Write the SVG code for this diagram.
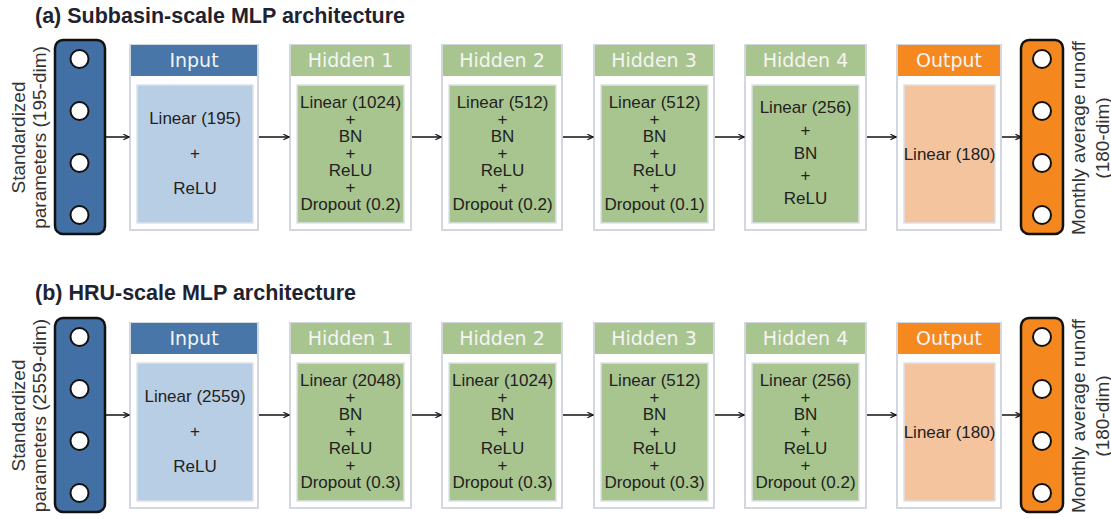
<svg xmlns="http://www.w3.org/2000/svg" width="1111" height="519" viewBox="0 0 1111 519">
<defs>
<style>
.title{font-family:"Liberation Sans",Arial,sans-serif;font-weight:bold;font-size:21.5px;fill:#1f2330}
.side{font-family:"Liberation Sans",Arial,sans-serif;font-size:19px;fill:#333;text-anchor:middle}
.frame{fill:#fff;stroke:#d3d7df;stroke-width:2}
.hdr{font-family:"DejaVu Sans",sans-serif;font-size:19px;fill:#f4f4f4;text-anchor:middle}
.body{font-family:"Liberation Sans",Arial,sans-serif;font-size:17px;fill:#222;text-anchor:middle}
.inner{stroke:#dde1e8;stroke-width:1.5}
.bluehdr{fill:#4876a9}
.blueinner{fill:#b8cee5}
.greenhdr{fill:#a8c58f}
.greeninner{fill:#a8c58f}
.orangehdr{fill:#f5891f}
.orangeinner{fill:#f4c49e}
.colin{fill:#4270a5;stroke:#111;stroke-width:2.5}
.colout{fill:#f4871d;stroke:#111;stroke-width:2.5}
.node{fill:#fff;stroke:#111;stroke-width:2}
.conn{stroke:#111;stroke-width:1.5;fill:none;marker-end:url(#arr)}
</style>
<marker id="arr" viewBox="0 0 10 10" refX="9" refY="5" markerWidth="7" markerHeight="7" markerUnits="userSpaceOnUse" orient="auto">
<path d="M1,1 L9,5 L1,9" fill="none" stroke="#111" stroke-width="1.6"/>
</marker>
</defs>
<rect width="1111" height="519" fill="#fff"/>

<text class="title" x="35" y="22.5">(a) Subbasin-scale MLP architecture</text>
<text class="title" x="35" y="299.5">(b) HRU-scale MLP architecture</text>

<!-- Panel A -->
<g id="a-in-col">
<text class="side" transform="translate(25,137.5) rotate(-90)">Standardized</text>
<text class="side" transform="translate(46,137.5) rotate(-90)">parameters (195-dim)</text>
<rect class="colin" x="55" y="40" width="50" height="194" rx="8"/>
<circle class="node" cx="79.5" cy="59" r="9"/>
<circle class="node" cx="79.5" cy="111" r="9"/>
<circle class="node" cx="79.5" cy="163" r="9"/>
<circle class="node" cx="79.5" cy="215" r="9"/>
</g>
<g id="a-input">
<rect class="frame" x="130" y="45" width="128" height="185"/>
<rect class="bluehdr" x="131" y="45" width="126" height="31"/>
<text class="hdr" x="194" y="67">Input</text>
<rect class="blueinner inner" x="137" y="85" width="116" height="138"/>
<text class="body" x="195" y="124">Linear (195)</text>
<text class="body" x="195" y="159">+</text>
<text class="body" x="195" y="194">ReLU</text>
</g>
<g id="a-h1">
<rect class="frame" x="290" y="45" width="121" height="185"/>
<rect class="greenhdr" x="291" y="45" width="119" height="31"/>
<text class="hdr" x="350.5" y="67">Hidden 1</text>
<rect class="greeninner inner" x="297" y="85" width="107" height="138"/>
<text class="body" x="350.5" y="108">Linear (1024)</text>
<text class="body" x="350.5" y="125">+</text>
<text class="body" x="350.5" y="142">BN</text>
<text class="body" x="350.5" y="159">+</text>
<text class="body" x="350.5" y="176">ReLU</text>
<text class="body" x="350.5" y="193">+</text>
<text class="body" x="350.5" y="210">Dropout (0.2)</text>
</g>
<g id="a-h2">
<rect class="frame" x="442" y="45" width="120" height="185"/>
<rect class="greenhdr" x="443" y="45" width="118" height="31"/>
<text class="hdr" x="502" y="67">Hidden 2</text>
<rect class="greeninner inner" x="449" y="85" width="107" height="138"/>
<text class="body" x="502.5" y="108">Linear (512)</text>
<text class="body" x="502.5" y="125">+</text>
<text class="body" x="502.5" y="142">BN</text>
<text class="body" x="502.5" y="159">+</text>
<text class="body" x="502.5" y="176">ReLU</text>
<text class="body" x="502.5" y="193">+</text>
<text class="body" x="502.5" y="210">Dropout (0.2)</text>
</g>
<g id="a-h3">
<rect class="frame" x="594" y="45" width="120" height="185"/>
<rect class="greenhdr" x="595" y="45" width="118" height="31"/>
<text class="hdr" x="654" y="67">Hidden 3</text>
<rect class="greeninner inner" x="601" y="85" width="107" height="138"/>
<text class="body" x="654.5" y="108">Linear (512)</text>
<text class="body" x="654.5" y="125">+</text>
<text class="body" x="654.5" y="142">BN</text>
<text class="body" x="654.5" y="159">+</text>
<text class="body" x="654.5" y="176">ReLU</text>
<text class="body" x="654.5" y="193">+</text>
<text class="body" x="654.5" y="210">Dropout (0.1)</text>
</g>
<g id="a-h4">
<rect class="frame" x="745" y="45" width="121" height="185"/>
<rect class="greenhdr" x="746" y="45" width="119" height="31"/>
<text class="hdr" x="805.5" y="67">Hidden 4</text>
<rect class="greeninner inner" x="752" y="85" width="107" height="138"/>
<text class="body" x="805.5" y="113">Linear (256)</text>
<text class="body" x="805.5" y="135.75">+</text>
<text class="body" x="805.5" y="158.5">BN</text>
<text class="body" x="805.5" y="181.25">+</text>
<text class="body" x="805.5" y="204">ReLU</text>
</g>
<g id="a-output">
<rect class="frame" x="897" y="45" width="104" height="185"/>
<rect class="orangehdr" x="898" y="45" width="102" height="31"/>
<text class="hdr" x="949" y="67">Output</text>
<rect class="orangeinner inner" x="904" y="85" width="91" height="138"/>
<text class="body" x="949.5" y="160">Linear (180)</text>
</g>
<g id="a-out-col">
<rect class="colout" x="1021" y="40" width="42" height="194" rx="8"/>
<circle class="node" cx="1042" cy="59" r="9"/>
<circle class="node" cx="1042" cy="111" r="9"/>
<circle class="node" cx="1042" cy="163" r="9"/>
<circle class="node" cx="1042" cy="215" r="9"/>
<text class="side" transform="translate(1085,138) rotate(-90)">Monthly average runoff</text>
<text class="side" transform="translate(1109,138) rotate(-90)">(180-dim)</text>
</g>

<!-- Panel B -->
<g id="b-in-col" transform="translate(0,278)">
<text class="side" transform="translate(25,137.5) rotate(-90)">Standardized</text>
<text class="side" transform="translate(46,137.5) rotate(-90)">parameters (2559-dim)</text>
<rect class="colin" x="55" y="40" width="50" height="194" rx="8"/>
<circle class="node" cx="79.5" cy="59" r="9"/>
<circle class="node" cx="79.5" cy="111" r="9"/>
<circle class="node" cx="79.5" cy="163" r="9"/>
<circle class="node" cx="79.5" cy="215" r="9"/>
</g>
<g id="b-input" transform="translate(0,278)">
<rect class="frame" x="130" y="45" width="128" height="185"/>
<rect class="bluehdr" x="131" y="45" width="126" height="31"/>
<text class="hdr" x="194" y="67">Input</text>
<rect class="blueinner inner" x="137" y="85" width="116" height="138"/>
<text class="body" x="195" y="124">Linear (2559)</text>
<text class="body" x="195" y="159">+</text>
<text class="body" x="195" y="194">ReLU</text>
</g>
<g id="b-h1" transform="translate(0,278)">
<rect class="frame" x="290" y="45" width="121" height="185"/>
<rect class="greenhdr" x="291" y="45" width="119" height="31"/>
<text class="hdr" x="350.5" y="67">Hidden 1</text>
<rect class="greeninner inner" x="297" y="85" width="107" height="138"/>
<text class="body" x="350.5" y="108">Linear (2048)</text>
<text class="body" x="350.5" y="125">+</text>
<text class="body" x="350.5" y="142">BN</text>
<text class="body" x="350.5" y="159">+</text>
<text class="body" x="350.5" y="176">ReLU</text>
<text class="body" x="350.5" y="193">+</text>
<text class="body" x="350.5" y="210">Dropout (0.3)</text>
</g>
<g id="b-h2" transform="translate(0,278)">
<rect class="frame" x="442" y="45" width="120" height="185"/>
<rect class="greenhdr" x="443" y="45" width="118" height="31"/>
<text class="hdr" x="502" y="67">Hidden 2</text>
<rect class="greeninner inner" x="449" y="85" width="107" height="138"/>
<text class="body" x="502.5" y="108">Linear (1024)</text>
<text class="body" x="502.5" y="125">+</text>
<text class="body" x="502.5" y="142">BN</text>
<text class="body" x="502.5" y="159">+</text>
<text class="body" x="502.5" y="176">ReLU</text>
<text class="body" x="502.5" y="193">+</text>
<text class="body" x="502.5" y="210">Dropout (0.3)</text>
</g>
<g id="b-h3" transform="translate(0,278)">
<rect class="frame" x="594" y="45" width="120" height="185"/>
<rect class="greenhdr" x="595" y="45" width="118" height="31"/>
<text class="hdr" x="654" y="67">Hidden 3</text>
<rect class="greeninner inner" x="601" y="85" width="107" height="138"/>
<text class="body" x="654.5" y="108">Linear (512)</text>
<text class="body" x="654.5" y="125">+</text>
<text class="body" x="654.5" y="142">BN</text>
<text class="body" x="654.5" y="159">+</text>
<text class="body" x="654.5" y="176">ReLU</text>
<text class="body" x="654.5" y="193">+</text>
<text class="body" x="654.5" y="210">Dropout (0.3)</text>
</g>
<g id="b-h4" transform="translate(0,278)">
<rect class="frame" x="745" y="45" width="121" height="185"/>
<rect class="greenhdr" x="746" y="45" width="119" height="31"/>
<text class="hdr" x="805.5" y="67">Hidden 4</text>
<rect class="greeninner inner" x="752" y="85" width="107" height="138"/>
<text class="body" x="805.5" y="108">Linear (256)</text>
<text class="body" x="805.5" y="125">+</text>
<text class="body" x="805.5" y="142">BN</text>
<text class="body" x="805.5" y="159">+</text>
<text class="body" x="805.5" y="176">ReLU</text>
<text class="body" x="805.5" y="193">+</text>
<text class="body" x="805.5" y="210">Dropout (0.2)</text>
</g>
<g id="b-output" transform="translate(0,278)">
<rect class="frame" x="897" y="45" width="104" height="185"/>
<rect class="orangehdr" x="898" y="45" width="102" height="31"/>
<text class="hdr" x="949" y="67">Output</text>
<rect class="orangeinner inner" x="904" y="85" width="91" height="138"/>
<text class="body" x="949.5" y="160">Linear (180)</text>
</g>
<g id="b-out-col" transform="translate(0,278)">
<rect class="colout" x="1021" y="40" width="42" height="194" rx="8"/>
<circle class="node" cx="1042" cy="59" r="9"/>
<circle class="node" cx="1042" cy="111" r="9"/>
<circle class="node" cx="1042" cy="163" r="9"/>
<circle class="node" cx="1042" cy="215" r="9"/>
<text class="side" transform="translate(1085,138) rotate(-90)">Monthly average runoff</text>
<text class="side" transform="translate(1109,138) rotate(-90)">(180-dim)</text>
</g>

<g id="connectors">
<line class="conn" x1="105" y1="137" x2="129" y2="137"/>
<line class="conn" x1="259" y1="137" x2="289" y2="137"/>
<line class="conn" x1="412" y1="137" x2="441" y2="137"/>
<line class="conn" x1="563" y1="137" x2="593" y2="137"/>
<line class="conn" x1="715" y1="137" x2="744" y2="137"/>
<line class="conn" x1="867" y1="137" x2="896" y2="137"/>
<line class="conn" x1="1002" y1="137" x2="1021" y2="137"/>
<line class="conn" x1="105" y1="415" x2="129" y2="415"/>
<line class="conn" x1="259" y1="415" x2="289" y2="415"/>
<line class="conn" x1="412" y1="415" x2="441" y2="415"/>
<line class="conn" x1="563" y1="415" x2="593" y2="415"/>
<line class="conn" x1="715" y1="415" x2="744" y2="415"/>
<line class="conn" x1="867" y1="415" x2="896" y2="415"/>
<line class="conn" x1="1002" y1="415" x2="1021" y2="415"/>
</g>
</svg>
